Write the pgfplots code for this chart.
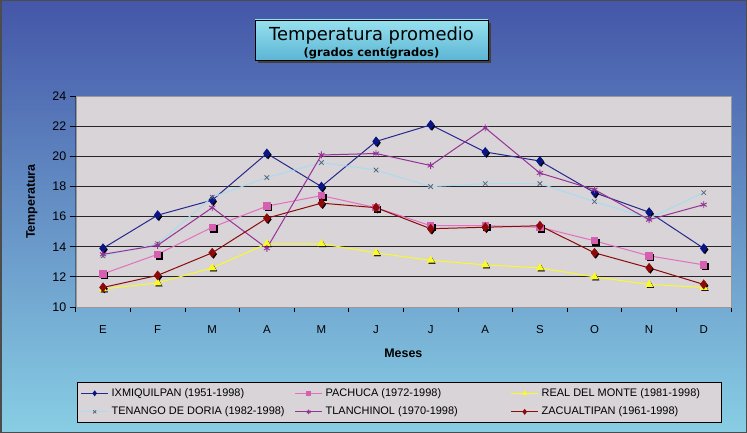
\documentclass[border=0pt]{standalone}
\usepackage{pgfplots}
\pgfplotsset{compat=1.18}
\usepackage{pgfplotstable}
\usepackage{fontspec}
\setmainfont{Liberation Sans}
\newfontfamily\titlefont{DejaVu Sans}
\definecolor{bgtop}{RGB}{68,86,168}
\definecolor{bgmid}{RGB}{104,150,206}
\definecolor{bgbot}{RGB}{136,206,228}
\definecolor{plotbg}{RGB}{216,212,216}
\definecolor{cix}{RGB}{40,40,140}
\definecolor{cixm}{RGB}{10,20,130}
\definecolor{cpa}{RGB}{226,112,190}
\definecolor{cpam}{RGB}{214,96,176}
\definecolor{cre}{RGB}{250,250,40}
\definecolor{cte}{RGB}{168,220,240}
\definecolor{ctem}{RGB}{90,100,120}
\definecolor{ctl}{RGB}{150,50,150}
\definecolor{cza}{RGB}{140,10,10}
\definecolor{ttop}{RGB}{150,224,238}
\definecolor{tbot}{RGB}{92,182,212}
\pgfplotstableread{
x ix pa re te tl za
0 13.9 12.2 11.2 13.4 13.5 11.3
1 16.1 13.5 11.6 14.2 14.1 12.1
2 17.1 15.3 12.6 17.3 16.6 13.6
3 20.2 16.7 14.2 18.6 13.9 15.9
4 18.0 17.4 14.2 19.6 20.1 16.9
5 21.0 16.6 13.6 19.1 20.2 16.6
6 22.1 15.4 13.1 18.0 19.4 15.2
7 20.3 15.4 12.8 18.2 21.9 15.3
8 19.7 15.3 12.6 18.2 18.9 15.4
9 17.6 14.4 12.0 17.0 17.8 13.6
10 16.3 13.4 11.5 15.9 15.8 12.6
11 13.9 12.8 11.3 17.6 16.8 11.5
}\datatable
\begin{document}
\begin{tikzpicture}
% background
\shade[top color=bgtop, middle color=bgmid, bottom color=bgbot] (0,0) rectangle (747bp,433bp);
\draw[black!70, line width=1.5bp] (0.75bp,0.75bp) rectangle (746.25bp,432.25bp);
% title box
\fill[black!75] (258bp,370bp) rectangle (491bp,410bp);
\shade[top color=ttop, bottom color=tbot, draw=black, line width=0.8bp] (255bp,373bp) rectangle (488bp,413bp);
\node[font=\titlefont\fontsize{18}{18}\selectfont, anchor=center] at (371.5bp,397.5bp) {Temperatura promedio};
\node[font=\titlefont\bfseries\fontsize{11.5}{12}\selectfont, anchor=center] at (371.5bp,380bp) {(grados centígrados)};
\begin{axis}[
  at={(75.7bp,126bp)}, anchor=south west,
  scale only axis, width=655.3bp, height=210.7bp,
  xmin=-0.5, xmax=11.5, ymin=10, ymax=24,
  axis background/.style={fill=plotbg},
  axis line style={draw=black!40},
  xtick={0,...,11},
  xticklabels={E,F,M,A,M,J,J,A,S,O,N,D},
  major x tick style={draw=none},
  minor xtick={-0.5,0.5,...,11.5},
  ytick={10,12,...,24},
  tick align=outside,
  major tick length=6bp, minor tick length=5bp,
  every tick/.style={black, line width=0.8bp},
  xtick pos=bottom, ytick pos=left,
  extra y ticks={12,14,...,22},
  extra y tick labels={},
  extra y tick style={grid=major, major tick length=0pt, major grid style={black!85, line width=1bp}},
  /pgf/number format/assume math mode=true,
  yticklabel style={font=\fontsize{12.5}{13}\selectfont},
  xticklabel style={font=\fontsize{11.5}{12}\selectfont, yshift=-9bp},
  xlabel={Meses}, ylabel={Temperatura},
  x label style={at={(axis description cs:0.5,-0.218)}, anchor=center, font=\bfseries\fontsize{12.5}{13}\selectfont},
  y label style={at={(axis description cs:-0.0667,0.5)}, anchor=center, font=\bfseries\fontsize{12.5}{13}\selectfont},
  legend columns=3,
  legend cell align=left,
  legend style={at={(axis description cs:0.0024,-0.5505)}, anchor=south west,
    fill=plotbg, draw=black, line width=0.8bp,
    font=\fontsize{11}{12}\selectfont,
    inner xsep=3bp, inner ysep=4bp, row sep=5bp,
    nodes={inner xsep=1bp, inner ysep=1.5bp, text height=8bp, text depth=2.5bp}},
  legend image code/.code={\draw[mark repeat=2,mark phase=2,#1] plot coordinates {(0bp,0bp)(13.5bp,0bp)(27bp,0bp)};},
  legend image post style={mark size=2.2bp},
]
% shadows
\addplot[forget plot, only marks, mark=diamond*, mark size=4.2bp, black, mark options={xshift=1.3bp, yshift=-1.3bp}] table[x=x,y=ix]{\datatable};
\addplot[forget plot, only marks, mark=square*, mark size=3.2bp, black, mark options={xshift=1.3bp, yshift=-1.3bp}] table[x=x,y=pa]{\datatable};
\addplot[forget plot, only marks, mark=triangle*, mark size=3.8bp, black, mark options={xshift=1.3bp, yshift=-1.3bp}] table[x=x,y=re]{\datatable};
\addplot[forget plot, only marks, mark=diamond*, mark size=4.2bp, black, mark options={xshift=1.3bp, yshift=-1.3bp}] table[x=x,y=za]{\datatable};
% series
\addplot[cix, line width=1bp, mark=diamond*, mark size=4.2bp, mark options={fill=cixm, draw=cixm}] table[x=x,y=ix]{\datatable};
\addlegendentry{\makebox[184bp][l]{\hspace{2bp}IXMIQUILPAN (1951-1998)}}
\addplot[cpa, line width=1bp, mark=square*, mark size=3.2bp, mark options={fill=cpam, draw=cpam}] table[x=x,y=pa]{\datatable};
\addlegendentry{\makebox[186bp][l]{\hspace{2bp}PACHUCA (1972-1998)}}
\addplot[cre, line width=1bp, mark=triangle*, mark size=3.8bp, mark options={fill=cre, draw=cre}] table[x=x,y=re]{\datatable};
\addlegendentry{\makebox[178bp][l]{\hspace{2bp}REAL DEL MONTE (1981-1998)}}
\addplot[cte, line width=1bp, mark=x, mark size=3.2bp, mark options={draw=ctem, line width=0.8bp}] table[x=x,y=te]{\datatable};
\addlegendentry{\makebox[184bp][l]{\hspace{2bp}TENANGO DE DORIA (1982-1998)}}
\addplot[ctl, line width=1bp, mark=asterisk, mark size=3.5bp, mark options={draw=ctl, line width=0.9bp}] table[x=x,y=tl]{\datatable};
\addlegendentry{\makebox[186bp][l]{\hspace{2bp}TLANCHINOL (1970-1998)}}
\addplot[cza, line width=1bp, mark=diamond*, mark size=4.2bp, mark options={fill=cza, draw=cza}] table[x=x,y=za]{\datatable};
\addlegendentry{\makebox[178bp][l]{\hspace{2bp}ZACUALTIPAN (1961-1998)}}
\draw[black, line width=1bp] (rel axis cs:0,1) -- (rel axis cs:0,0) -- (rel axis cs:1,0);
\end{axis}
\end{tikzpicture}
\end{document}
